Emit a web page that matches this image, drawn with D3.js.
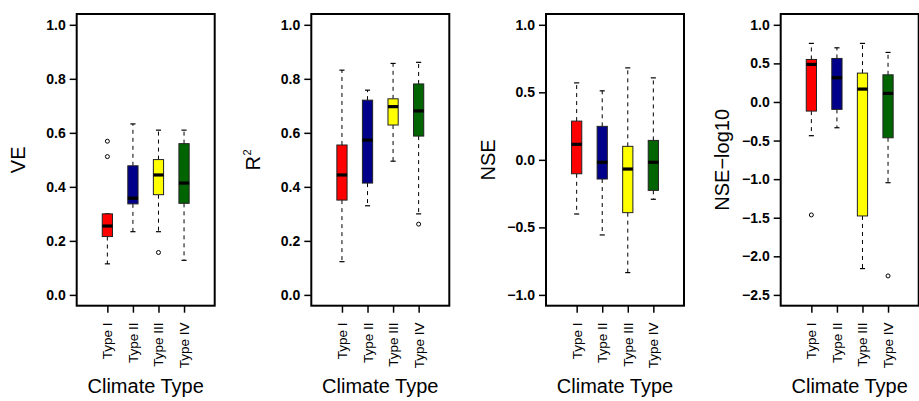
<!DOCTYPE html>
<html>
<head>
<meta charset="utf-8">
<script src="https://cdn.jsdelivr.net/npm/d3@7/dist/d3.min.js"></script>
<style>
  html, body { margin: 0; padding: 0; background: #fff; }
  svg { display: block; font-family: "Liberation Sans", Arial, Helvetica, sans-serif; }
  .ytick { font-size: 14px; font-weight: bold; }
  .xtick { font-size: 13.5px; }
</style>
</head>
<body>
<svg id="chart" width="919" height="401"></svg>
<script>
// ---------- data ----------
const categories = ["Type I", "Type II", "Type III", "Type IV"];
const boxColors = ["#ff0000", "#00008b", "#ffff00", "#006400"];

// each entry: [lower whisker, Q1, median, Q3, upper whisker]
const veStats = [
  [0.115, 0.216, 0.255, 0.300, 0.300],
  [0.234, 0.337, 0.358, 0.478, 0.633],
  [0.234, 0.371, 0.444, 0.501, 0.610],
  [0.128, 0.339, 0.414, 0.560, 0.610]
];
const veOutliers = [[0.512, 0.569], [], [0.157], []];

const r2Stats = [
  [0.123, 0.351, 0.444, 0.555, 0.832],
  [0.330, 0.414, 0.573, 0.721, 0.758],
  [0.495, 0.629, 0.697, 0.726, 0.857],
  [0.300, 0.588, 0.681, 0.781, 0.861]
];
const r2Outliers = [[], [], [], [0.262]];

const nseStats = [
  [-0.401, -0.103, 0.115, 0.287, 0.570],
  [-0.556, -0.142, -0.018, 0.248, 0.511],
  [-0.835, -0.391, -0.068, 0.100, 0.681],
  [-0.292, -0.226, -0.018, 0.144, 0.607]
];
const nseOutliers = [[], [], [], []];

const nseLogStats = [
  [-0.437, -0.118, 0.487, 0.551, 0.759],
  [-0.334, -0.096, 0.314, 0.564, 0.702],
  [-2.159, -1.477, 0.167, 0.374, 0.759],
  [-1.046, -0.464, 0.111, 0.352, 0.642]
];
const nseLogOutliers = [[-1.464], [], [], [-2.254]];

const veTicks = [0.0, 0.2, 0.4, 0.6, 0.8, 1.0];
const r2Ticks = [0.0, 0.2, 0.4, 0.6, 0.8, 1.0];
const nseTicks = [-1.0, -0.5, 0.0, 0.5, 1.0];
const nseLogTicks = [-2.5, -2.0, -1.5, -1.0, -0.5, 0.0, 0.5, 1.0];

const xTitle = "Climate Type";

const panels = [
  { title: "VE", stats: veStats, outliers: veOutliers, ticks: veTicks, lo: 0, hi: 1 },
  { title: "R2", stats: r2Stats, outliers: r2Outliers, ticks: r2Ticks, lo: 0, hi: 1 },
  { title: "NSE", stats: nseStats, outliers: nseOutliers, ticks: nseTicks, lo: -1, hi: 1 },
  { title: "NSE\u2212log10", stats: nseLogStats, outliers: nseLogOutliers, ticks: nseLogTicks, lo: -2.5, hi: 1 }
];

// ---------- layout ----------
const svg = d3.select("#chart");
const frameLefts = [76.7, 311.3, 546, 780.7];
const frameW = 138;
const plotTop = 14, plotBottom = 305.7;
const fmt = v => (v < 0 ? "\u2212" : "") + Math.abs(v).toFixed(1);

panels.forEach((p, i) => {
  const L = frameLefts[i];
  const ext = (p.hi - p.lo) * 0.04;
  const y = d3.scaleLinear().domain([p.lo - ext, p.hi + ext]).range([plotBottom, plotTop]);
  const x = d3.scaleLinear().domain([-0.2, 5.2]).range([L, L + frameW]);
  const boxW = x(0.4) - x(0);
  const g = svg.append("g");

  // y axis
  const yAxis = d3.axisLeft(y).tickValues(p.ticks).tickFormat(fmt).tickSize(7).tickPadding(4);
  const ya = g.append("g").attr("transform", `translate(${L},0)`).call(yAxis);
  ya.attr("font-size", null).attr("font-family", null);
  ya.select(".domain").remove();
  ya.selectAll(".tick line").attr("stroke", "#000").attr("stroke-width", 1.5);
  ya.selectAll(".tick text").attr("fill", "#000").attr("class", "ytick");

  // x axis
  const xAxis = d3.axisBottom(x).tickValues([1, 2, 3, 4]).tickFormat(d => categories[d - 1]).tickSize(7).tickPadding(4);
  const xa = g.append("g").attr("transform", `translate(0,${plotBottom})`).call(xAxis);
  xa.attr("font-size", null).attr("font-family", null);
  xa.select(".domain").remove();
  xa.selectAll(".tick line").attr("stroke", "#000").attr("stroke-width", 1.5);
  xa.selectAll(".tick text")
    .attr("fill", "#000").attr("class", "xtick")
    .attr("text-anchor", "end")
    .attr("transform", "rotate(-90)")
    .attr("x", -(322.5 - plotBottom)).attr("y", 4.5).attr("dy", 0);

  // boxes
  p.stats.forEach((s, j) => {
    const cx = x(j + 1);
    const [wl, q1, med, q3, wh] = s;
    const dash = "4,4";
    g.append("line").attr("x1", cx).attr("x2", cx).attr("y1", y(q3)).attr("y2", y(wh))
      .attr("stroke", "#000").attr("stroke-width", 1).attr("stroke-dasharray", dash);
    g.append("line").attr("x1", cx).attr("x2", cx).attr("y1", y(q1)).attr("y2", y(wl))
      .attr("stroke", "#000").attr("stroke-width", 1).attr("stroke-dasharray", dash);
    [wl, wh].forEach(v => {
      g.append("line").attr("x1", cx - boxW / 4).attr("x2", cx + boxW / 4)
        .attr("y1", y(v)).attr("y2", y(v)).attr("stroke", "#000").attr("stroke-width", 1.2);
    });
    g.append("rect").attr("x", cx - boxW / 2).attr("width", boxW)
      .attr("y", y(q3)).attr("height", y(q1) - y(q3))
      .attr("fill", boxColors[j]).attr("stroke", "#222").attr("stroke-width", 1);
    g.append("line").attr("x1", cx - boxW / 2).attr("x2", cx + boxW / 2)
      .attr("y1", y(med)).attr("y2", y(med)).attr("stroke", "#000").attr("stroke-width", 3.2);
    p.outliers[j].forEach(o => {
      g.append("circle").attr("cx", cx).attr("cy", y(o)).attr("r", 2)
        .attr("fill", "none").attr("stroke", "#000").attr("stroke-width", 1);
    });
  });

  // frame
  g.append("rect").attr("x", L).attr("y", plotTop).attr("width", frameW).attr("height", plotBottom - plotTop)
    .attr("fill", "none").attr("stroke", "#000").attr("stroke-width", 2);

  // y title
  const cy = (plotTop + plotBottom) / 2;
  const yt = g.append("text")
    .attr("transform", `translate(${L - 51.5},${cy}) rotate(-90)`)
    .attr("text-anchor", "middle").attr("font-size", 20).attr("fill", "#000");
  if (p.title === "R2") {
    yt.append("tspan").text("R");
    yt.append("tspan").attr("font-size", 11).attr("dy", -9).attr("dx", 0.5).text("2");
  } else {
    yt.text(p.title);
  }

  // x title
  g.append("text").attr("x", L + frameW / 2).attr("y", 393)
    .attr("text-anchor", "middle").attr("font-size", 20).attr("fill", "#000").text(xTitle);
});
</script>
</body>
</html>
